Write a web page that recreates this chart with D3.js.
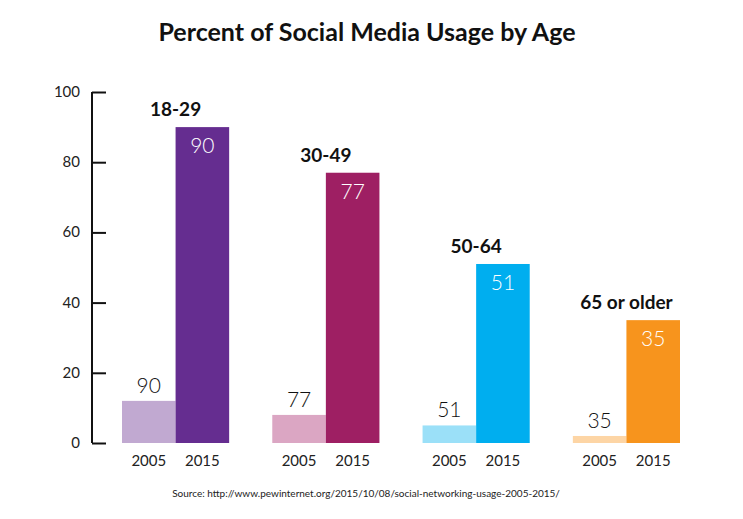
<!DOCTYPE html>
<html><head><meta charset="utf-8">
<script src="https://cdn.jsdelivr.net/npm/d3@7"></script>
<style>body{margin:0;background:#fff}svg{display:block}</style>
</head><body>
<script>
const ageGroups = ["18-29", "30-49", "50-64", "65 or older"];
const years = ["2005", "2015"];
const values2005 = [12, 8, 5, 2];
const values2015 = [90, 77, 51, 35];
const labels2005 = ["90", "77", "51", "35"];
const labels2015 = ["90", "77", "51", "35"];
const lightColors = ["#c1a9d1", "#dba6c3", "#9be0f8", "#fdd5a5"];
const darkColors = ["#652d90", "#9e1f63", "#00aeef", "#f7941d"];
const yTicks = [0, 20, 40, 60, 80, 100];

const W = 743, H = 519;
const svg = d3.select("body").append("svg").attr("width", W).attr("height", H);
const font = "Lato, 'Open Sans', sans-serif";

const y = d3.scaleLinear().domain([0, 100]).range([443, 92]);
const x0 = d3.scaleBand().domain(ageGroups).range([122, 680]).paddingInner(0.287).paddingOuter(0);
const x1 = d3.scaleBand().domain(years).range([0, x0.bandwidth()]).padding(0);

svg.append("text").attr("x", 367).attr("y", 41).attr("text-anchor", "middle")
  .attr("font-family", font).attr("font-weight", 700).attr("font-size", 25).attr("fill", "#111")
  .text("Percent of Social Media Usage by Age");

const yAxis = d3.axisRight(y).tickValues(yTicks).tickSize(14).tickFormat("");
const ag = svg.append("g").attr("transform", "translate(92,0)").call(yAxis);
ag.select(".domain").attr("stroke", "#111").attr("stroke-width", 2).attr("d", `M0,${y(100)}V${y(0)}`);
ag.selectAll(".tick line").attr("stroke", "#111").attr("stroke-width", 2);
svg.selectAll(".ylab").data(yTicks).enter().append("text")
  .attr("x", 80).attr("y", d => y(d) + 5).attr("text-anchor", "end")
  .attr("font-family", font).attr("font-size", 15).attr("fill", "#222").text(d => d);

const groups = svg.selectAll(".grp").data(ageGroups).enter().append("g")
  .attr("transform", d => `translate(${x0(d)},0)`);

groups.append("rect").attr("x", x1("2005")).attr("width", x1.bandwidth())
  .attr("y", (d, i) => y(values2005[i])).attr("height", (d, i) => y(0) - y(values2005[i]))
  .attr("fill", (d, i) => lightColors[i]);
groups.append("rect").attr("x", x1("2015")).attr("width", x1.bandwidth())
  .attr("y", (d, i) => y(values2015[i])).attr("height", (d, i) => y(0) - y(values2015[i]))
  .attr("fill", (d, i) => darkColors[i]);

groups.append("text").attr("x", x1("2005") + x1.bandwidth() / 2)
  .attr("y", (d, i) => y(values2005[i]) - 8).attr("text-anchor", "middle")
  .attr("font-family", font).attr("font-weight", 300).attr("font-size", 21).attr("fill", "#111")
  .text((d, i) => labels2005[i]);
groups.append("text").attr("x", x1("2015") + x1.bandwidth() / 2)
  .attr("y", (d, i) => y(values2015[i]) + 26).attr("text-anchor", "middle")
  .attr("font-family", font).attr("font-weight", 300).attr("font-size", 21).attr("fill", "#fff")
  .text((d, i) => labels2015[i]);

groups.append("text").attr("x", x0.bandwidth() / 2)
  .attr("y", (d, i) => y(values2015[i]) - 11).attr("text-anchor", "middle")
  .attr("font-family", font).attr("font-weight", 700).attr("font-size", 19).attr("fill", "#111")
  .text(d => d);

groups.selectAll(".yr").data(years).enter().append("text")
  .attr("x", d => x1(d) + x1.bandwidth() / 2).attr("y", 466).attr("text-anchor", "middle")
  .attr("font-family", font).attr("font-size", 15).attr("fill", "#222").text(d => d);

svg.append("text").attr("x", 366).attr("y", 497).attr("text-anchor", "middle")
  .attr("font-family", font).attr("font-size", 10).attr("fill", "#222")
  .text("Source: http://www.pewinternet.org/2015/10/08/social-networking-usage-2005-2015/");
</script>
</body></html>
